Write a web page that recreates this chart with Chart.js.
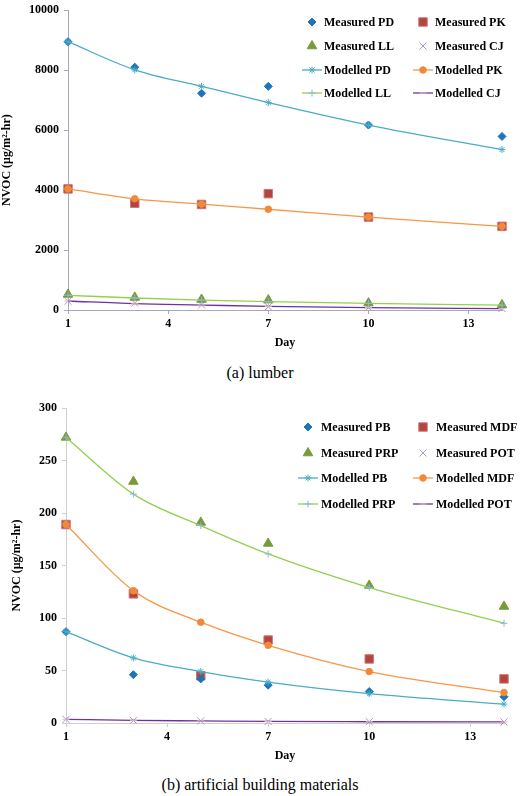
<!DOCTYPE html>
<html>
<head>
<meta charset="utf-8">
<script src="https://cdn.jsdelivr.net/npm/chart.js@4/dist/chart.umd.min.js"></script>
<style>
  body { margin: 0; background: #fff; width: 520px; height: 796px; position: relative; overflow: hidden; font-family: "Liberation Serif", "Times New Roman", serif; }
  .box { position: absolute; left: 0; width: 520px; }
  .caption { position: absolute; left: 0; width: 520px; text-align: center; font-family: "Liberation Serif", serif; font-size: 16px; line-height: 20px; color: #000; }
</style>
</head>
<body>
<div class="box" style="top:-2px;height:354px"><canvas id="lumberChart"></canvas></div>
<div class="caption" style="top:363px">(a) lumber</div>
<div class="box" style="top:385px;height:380px"><canvas id="artificialChart"></canvas></div>
<div class="caption" style="top:775px">(b) artificial building materials</div>

<script>
// sampling days and the x tick labels
const days = [1, 3, 5, 7, 10, 14];
const dayTicks = [1, 4, 7, 10, 13];

// (a) lumber
const lumberNames = ['PD', 'PK', 'LL', 'CJ'];
const measuredPD = [8950, 8100, 7230, 7460, 6170, 5790];
const measuredPK = [4040, 3560, 3520, 3880, 3100, 2790];
const measuredLL = [520, 420, 350, 330, 230, 170];
const measuredCJ = [290, 230, 170, 110, 80, 50];
const modelledPD = [8950, 8010, 7460, 6920, 6170, 5350];
const modelledPK = [4040, 3710, 3530, 3360, 3100, 2790];
const modelledLL = [490, 400, 330, 280, 220, 160];
const modelledCJ = [300, 210, 165, 120, 80, 45];

// (b) artificial building materials
const artificialNames = ['PB', 'MDF', 'PRP', 'POT'];
const measuredPB = [87, 46, 42, 36, 30, 25];
const measuredMDF = [189, 123, 45, 79, 61, 42];
const measuredPRP = [272, 230, 191, 171, 131, 111];
const measuredPOT = [3.5, 2.5, 2, 1.5, 1.2, 1];
const modelledPB = [87, 62, 49, 39, 28, 18];
const modelledMDF = [189, 126, 96, 74, 49, 29];
const modelledPRP = [272, 218, 188, 161, 129, 95];
const modelledPOT = [3.5, 2.5, 2, 1.5, 1.2, 1];

const FONT = '"Liberation Serif", "Times New Roman", serif';

// marker look for each of the 4 measured series
const measuredStyles = [
    { pointStyle: 'rectRot', radius: 4, fill: '#1B75BB', stroke: '#1B75BB' },
    { pointStyle: 'rect', radius: 6, fill: '#B5443F', stroke: '#CC7A76' },
    { pointStyle: 'triangle', radius: 5.5, fill: '#789A3A', stroke: '#789A3A' },
    { pointStyle: 'crossRot', radius: 5, fill: '#A898C8', stroke: '#A898C8' }
];
// line + marker look for each of the 4 modelled series
const modelledStyles = [
    { line: '#4BACC6', pointStyle: 'star', radius: 3.5, marker: '#4BACC6' },
    { line: '#F79646', pointStyle: 'circle', radius: 3.3, marker: '#F08A3A' },
    { line: '#92D050', pointStyle: 'cross', radius: 3.5, marker: '#8DB4E2' },
    { line: '#7030A0', pointStyle: 'line', radius: 3.5, marker: '#E6B9B8' }
];

// builds the 8 datasets (measured first, then modelled)
function buildDatasets(names, measured, modelled) {
    const sets = [];
    names.forEach((n, i) => {
        const s = measuredStyles[i];
        sets.push({
            label: 'Measured ' + n,
            data: days.map((d, k) => ({ x: d, y: measured[i][k] })),
            showLine: false,
            clip: false,
            pointStyle: s.pointStyle,
            pointRadius: s.radius,
            pointBackgroundColor: s.fill,
            pointBorderColor: s.stroke,
            pointBorderWidth: 1,
            borderColor: s.stroke,
            backgroundColor: s.fill,
            order: 2
        });
    });
    names.forEach((n, i) => {
        const s = modelledStyles[i];
        sets.push({
            label: 'Modelled ' + n,
            data: days.map((d, k) => ({ x: d, y: modelled[i][k] })),
            showLine: true,
            clip: false,
            cubicInterpolationMode: 'monotone',
            borderColor: s.line,
            borderWidth: 1.3,
            pointStyle: s.pointStyle,
            pointRadius: s.radius,
            pointBackgroundColor: s.marker,
            pointBorderColor: s.marker,
            pointBorderWidth: 1,
            backgroundColor: s.marker,
            order: 1
        });
    });
    return sets;
}

// I draw the legend myself, inside the plot area, as a 2 x 4 grid
const insideLegend = {
    id: 'insideLegend',
    afterDraw(chart, args, opts) {
        const ctx = chart.ctx;
        ctx.save();
        ctx.font = 'bold 12px ' + FONT;
        ctx.textBaseline = 'middle';
        chart.data.datasets.forEach((ds, i) => {
            const col = opts.cols[i % 2];
            const y = opts.rows[Math.floor(i / 2)];
            if (ds.showLine) {
                ctx.strokeStyle = ds.borderColor;
                ctx.lineWidth = ds.borderWidth;
                ctx.beginPath();
                ctx.moveTo(col.marker - opts.lineHalf, y);
                ctx.lineTo(col.marker + opts.lineHalf, y);
                ctx.stroke();
            }
            ctx.fillStyle = ds.pointBackgroundColor;
            ctx.strokeStyle = ds.pointBorderColor;
            ctx.lineWidth = ds.pointBorderWidth;
            if (Chart.helpers && Chart.helpers.drawPoint) {
                Chart.helpers.drawPoint(ctx, {
                    pointStyle: ds.pointStyle, rotation: 0,
                    radius: ds.pointRadius, borderWidth: ds.pointBorderWidth
                }, col.marker, y);
            }
            ctx.fillStyle = '#000';
            ctx.fillText(ds.label, col.text, y + 1);
        });
        ctx.restore();
    }
};

function makeChart(canvasId, datasets, cfg) {
    const axisColor = cfg.axisColor;
    return new Chart(document.getElementById(canvasId), {
        type: 'scatter',
        data: { datasets: datasets },
        options: {
            responsive: true,
            maintainAspectRatio: false,
            animation: false,
            layout: { padding: { top: cfg.padTop, right: cfg.padRight, bottom: 0, left: 0 } },
            plugins: {
                legend: { display: false },
                tooltip: { enabled: false },
                insideLegend: cfg.legend
            },
            scales: {
                x: {
                    type: 'linear',
                    min: 1,
                    max: 14,
                    afterBuildTicks: s => { s.ticks = dayTicks.map(v => ({ value: v })); },
                    afterFit: s => { s.height = 42; },
                    grid: { drawOnChartArea: false, tickLength: 4, color: axisColor },
                    border: { color: axisColor, width: 1 },
                    ticks: { color: '#000', padding: 3, callback: v => String(v), font: { family: FONT, size: 12, weight: 'bold' } },
                    title: {
                        display: true, text: 'Day', color: '#000',
                        padding: { top: 0, bottom: 2 },
                        font: { family: FONT, size: 12, weight: 'bold' }
                    }
                },
                y: {
                    min: 0,
                    max: cfg.yMax,
                    afterFit: s => { s.width = cfg.yWidth; },
                    grid: { drawOnChartArea: false, tickLength: 4, color: axisColor },
                    border: { color: axisColor, width: 1 },
                    ticks: { stepSize: cfg.yStep, color: '#000', padding: cfg.tickPad, callback: v => String(v), font: { family: FONT, size: 12, weight: 'bold' } },
                    title: {
                        display: true, text: 'NVOC (μg/m²-hr)', color: '#000',
                        padding: { top: cfg.titlePad, bottom: 0 },
                        font: { family: FONT, size: 12, weight: 'bold' }
                    }
                }
            }
        },
        plugins: [insideLegend]
    });
}

makeChart('lumberChart',
    buildDatasets(lumberNames,
        [measuredPD, measuredPK, measuredLL, measuredCJ],
        [modelledPD, modelledPK, modelledLL, modelledCJ]),
    {
        yMax: 10000, yStep: 2000, yWidth: 68, padTop: 7, padRight: 18,
        tickPad: 5, titlePad: 0, axisColor: '#A8A8BC',
        legend: {
            cols: [{ marker: 312, text: 324 }, { marker: 423, text: 435 }],
            rows: [24, 48, 72, 95],
            lineHalf: 10
        }
    });

makeChart('artificialChart',
    buildDatasets(artificialNames,
        [measuredPB, measuredMDF, measuredPRP, measuredPOT],
        [modelledPB, modelledMDF, modelledPRP, modelledPOT]),
    {
        yMax: 300, yStep: 50, yWidth: 66, padTop: 23, padRight: 16,
        tickPad: 5, titlePad: 10, axisColor: '#D0D0D0',
        legend: {
            cols: [{ marker: 308, text: 321 }, { marker: 423, text: 436 }],
            rows: [42, 68, 93, 119],
            lineHalf: 10
        }
    });
</script>
</body>
</html>
